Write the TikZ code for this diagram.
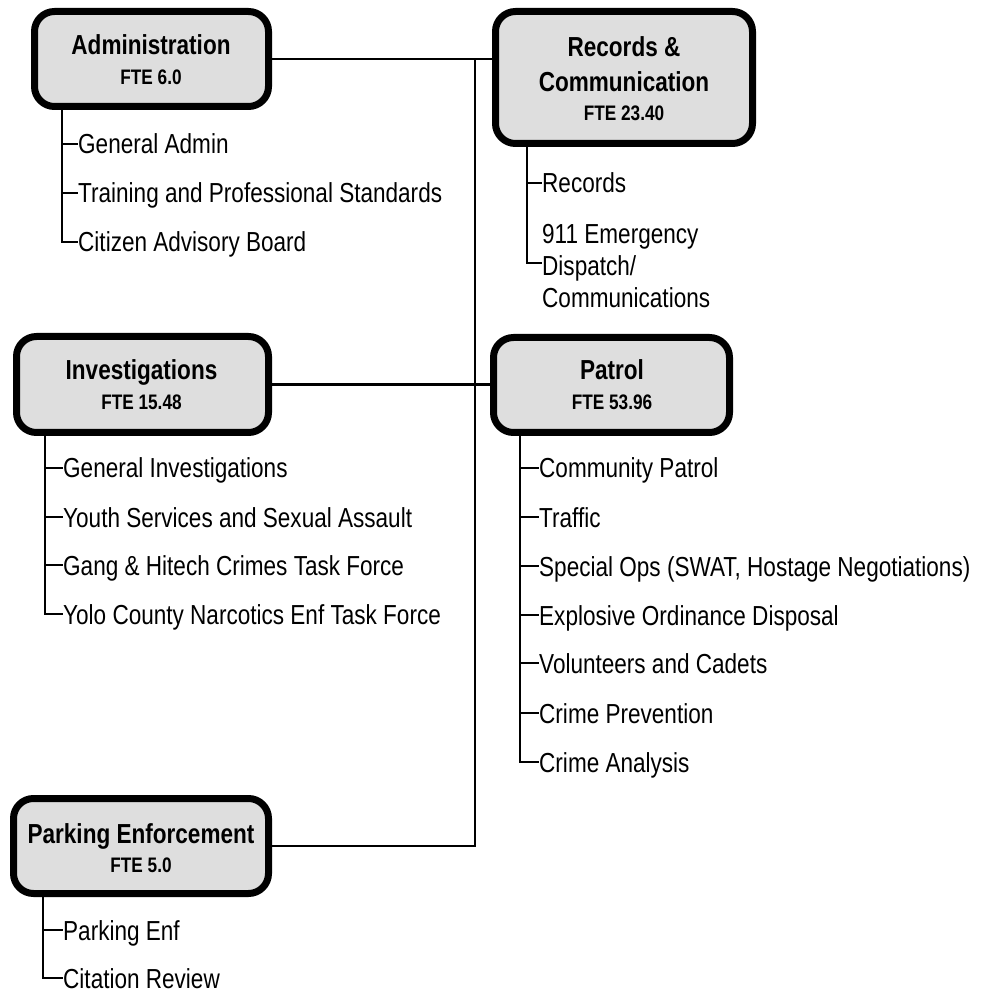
\documentclass[tikz,border=0pt]{standalone}
\usepackage{fontspec}
\setmainfont{Liberation Sans}[FakeStretch=0.82]
\definecolor{boxgray}{RGB}{222,222,222}
\begin{document}
\begin{tikzpicture}[x=1pt,y=-1pt,
  box/.style={draw=black, line width=7pt, rounded corners=20pt, fill=boxgray, inner sep=0pt},
  ttl/.style={anchor=base, inner sep=0pt, font=\fontsize{27.5}{32}\selectfont\bfseries},
  fte/.style={anchor=base, inner sep=0pt, font=\fontsize{21}{25}\selectfont\bfseries},
  item/.style={anchor=west, inner sep=0pt, text height=20pt, text depth=0pt, font=\fontsize{27.5}{33}\selectfont},
  conn/.style={line width=2.5pt},
]
\useasboundingbox (0,0) rectangle (997,992);

% boxes
\node[box, minimum width=234pt, minimum height=95pt] (adm) at (151.5,59) {};
\node[box, minimum width=257pt, minimum height=132pt] (rec) at (624,77.5) {};
\node[box, minimum width=252pt, minimum height=96pt] (inv) at (142.5,384.5) {};
\node[box, minimum width=236pt, minimum height=95pt] (pat) at (611.5,385) {};
\node[box, minimum width=255pt, minimum height=95pt] (park) at (141,846) {};

% titles
\node[ttl] (admT) at (151,55) {Administration};
\node[fte] (admF) at (151,85) {FTE 6.0};
\node[ttl] (recT1) at (624,57) {Records \&};
\node[ttl] (recT2) at (624,92) {Communication};
\node[fte] (recF) at (624,121) {FTE 23.40};
\node[ttl] (invT) at (141.5,380) {Investigations};
\node[fte] (invF) at (141.5,410) {FTE 15.48};
\node[ttl] (patT) at (612,380) {Patrol};
\node[fte] (patF) at (612,410) {FTE 53.96};
\node[ttl] (parkT) at (141,843) {Parking Enforcement};
\node[fte] (parkF) at (141,872) {FTE 5.0};

% main connectors
\coordinate (trk) at (475,59);
\draw[conn] (adm.east) -- (adm.east -| rec.west);
\draw[conn] (trk) |- (park.east);
\draw[conn] (inv.east) -- (inv.east -| pat.west);

% Administration items
\node[item] (adm1) at (78,144) {General Admin};
\node[item] (adm2) at (78,193) {Training and Professional Standards};
\node[item] (adm3) at (78,242) {Citizen Advisory Board};
\coordinate (admV) at (62,106);
\draw[conn] (admV) |- (adm3.west);
\foreach \i in {1,2} \draw[conn] (admV |- adm\i.west) -- (adm\i.west);

% Records items
\node[item] (rec1) at (542,183) {Records};
\node[anchor=base west, inner sep=0pt, align=left, font=\fontsize{27.5}{32}\selectfont] (rec2) at (542,308) {911 Emergency\\Dispatch/\\Communications};
\coordinate (rec2tick) at ([yshift=45pt]rec2.base west);
\coordinate (recV) at (527,143);
\draw[conn] (recV) |- (rec2tick);
\draw[conn] (recV |- rec1.west) -- (rec1.west);

% Investigations items
\node[item] (inv1) at (63,468) {General Investigations};
\node[item] (inv2) at (63,517) {Youth Services and Sexual Assault};
\node[item] (inv3) at (63,565) {Gang \& Hitech Crimes Task Force};
\node[item] (inv4) at (63,614) {Yolo County Narcotics Enf Task Force};
\coordinate (invV) at (45,432);
\draw[conn] (invV) |- (inv4.west);
\foreach \i in {1,2,3} \draw[conn] (invV |- inv\i.west) -- (inv\i.west);

% Patrol items
\node[item] (pat1) at (539,468) {Community Patrol};
\node[item] (pat2) at (539,517) {Traffic};
\node[item] (pat3) at (539,566) {Special Ops (SWAT, Hostage Negotiations)};
\node[item] (pat4) at (539,615) {Explosive Ordinance Disposal};
\node[item] (pat5) at (539,663) {Volunteers and Cadets};
\node[item] (pat6) at (539,713) {Crime Prevention};
\node[item] (pat7) at (539,762) {Crime Analysis};
\coordinate (patV) at (520,432);
\draw[conn] (patV) |- (pat7.west);
\foreach \i in {1,...,6} \draw[conn] (patV |- pat\i.west) -- (pat\i.west);

% Parking items
\node[item] (park1) at (63,930) {Parking Enf};
\node[item] (park2) at (63,978) {Citation Review};
\coordinate (parkV) at (43,893);
\draw[conn] (parkV) |- (park2.west);
\draw[conn] (parkV |- park1.west) -- (park1.west);
\end{tikzpicture}
\end{document}
